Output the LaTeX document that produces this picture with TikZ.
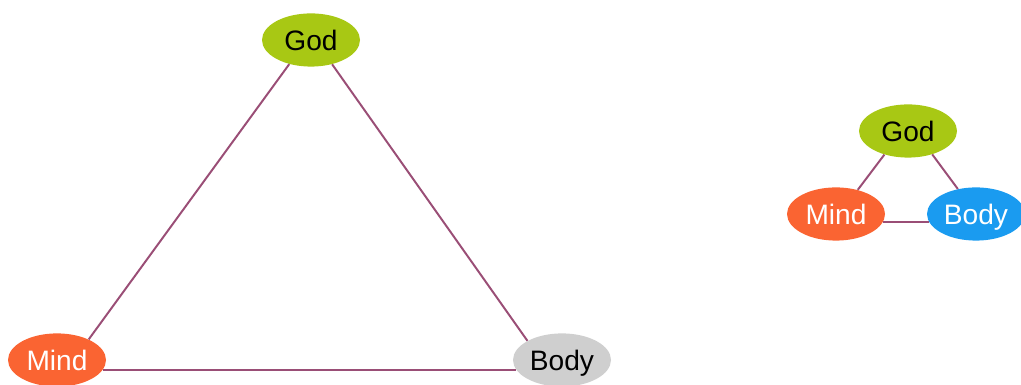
\documentclass[tikz,border=0pt]{standalone}
\usepackage{fontspec}
\setmainfont{Liberation Sans}
\usetikzlibrary{shapes.geometric}
\definecolor{godgreen}{HTML}{A8C814}
\definecolor{mindred}{HTML}{FA6432}
\definecolor{bodygrey}{HTML}{CFCFCF}
\definecolor{bodyblue}{HTML}{1A9BF0}
\definecolor{linkpurple}{HTML}{9A4E76}

\begin{document}
\begin{tikzpicture}[font=\fontsize{20}{23}\selectfont]
\tikzstyle{e}=[ellipse,inner sep=0pt,minimum width=2.45cm,minimum height=1.33cm,text height=14.3pt,text depth=0pt]
\tikzstyle{link}=[draw=linkpurple,line width=1.4pt]
\useasboundingbox (0,0) rectangle (25.525,9.625);
% large triangle
\node[e,fill=godgreen] (god) at (7.775,8.625) {God};
\node[e,fill=mindred,text=white] (mind) at (1.425,0.625) {Mind};
\node[e,fill=bodygrey] (body) at (14.05,0.625) {Body};
\draw[link] (god.228) -- (mind.33);
\draw[link] (god.-49) -- (body.151);
\draw[link] (mind.-12) -- (body.192);
% small triangle
\node[e,fill=godgreen] (sgod) at (22.7,6.35) {God};
\node[e,fill=mindred,text=white] (smind) at (20.9,4.275) {Mind};
\node[e,fill=bodyblue,text=white] (sbody) at (24.4,4.275) {Body};
\draw[link] (sgod.225) -- (smind.48);
\draw[link] (sgod.-44) -- (sbody.126);
\draw[link] (smind.-10) -- (sbody.190);
\end{tikzpicture}
\end{document}
